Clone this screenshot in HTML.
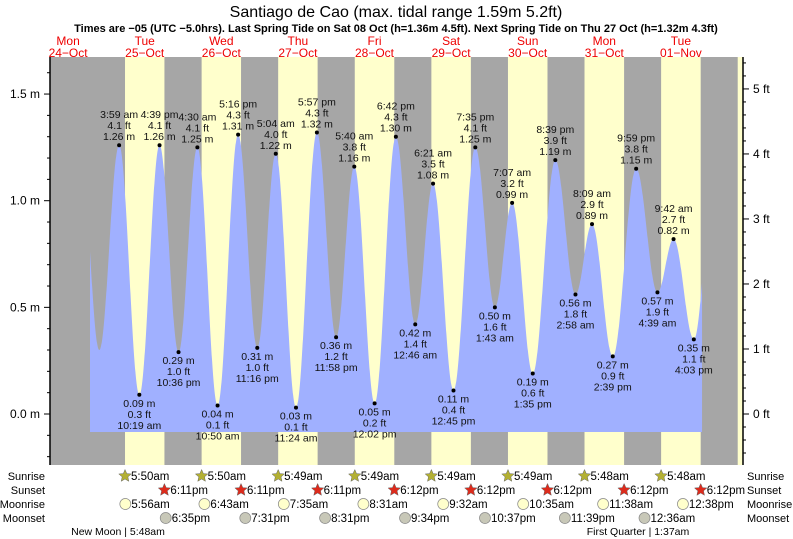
<!DOCTYPE html>
<html><head><meta charset="utf-8"><style>
body{margin:0;background:#fff;}
svg{display:block;font-family:"Liberation Sans",sans-serif;}
</style></head><body>
<svg id="c" width="793" height="539" viewBox="0 0 793 539" xmlns="http://www.w3.org/2000/svg">
<text x="396" y="17" text-anchor="middle" font-size="16">Santiago de Cao (max. tidal range 1.59m 5.2ft)</text>
<text x="396" y="32" text-anchor="middle" font-size="11" font-weight="bold">Times are −05 (UTC −5.0hrs). Last Spring Tide on Sat 08 Oct (h=1.36m 4.5ft). Next Spring Tide on Thu 27 Oct (h=1.32m 4.3ft)</text>
<g id="g"></g>
</svg>
<script>
const dayNames=["Mon","Tue","Wed","Thu","Fri","Sat","Sun","Mon","Tue"];
const dayDates=["24\u2212Oct","25\u2212Oct","26\u2212Oct","27\u2212Oct","28\u2212Oct","29\u2212Oct","30\u2212Oct","31\u2212Oct","01\u2212Nov"];
const tideDays=[0,0,1,1,1,1,2,2,2,2,3,3,3,3,4,4,4,5,5,5,5,6,6,6,6,7,7,7,7,8,8,8];
const tideTimes=["3:40 pm","9:46 pm","3:59 am","10:19 am","4:39 pm","10:36 pm","4:30 am","10:50 am","5:16 pm","11:16 pm","5:04 am","11:24 am","5:57 pm","11:58 pm","5:40 am","12:02 pm","6:42 pm","12:46 am","6:21 am","12:45 pm","7:35 pm","1:43 am","7:07 am","1:35 pm","8:39 pm","2:58 am","8:09 am","2:39 pm","9:59 pm","4:39 am","9:42 am","4:03 pm"];
const tideM=[1.30,0.30,1.26,0.09,1.26,0.29,1.25,0.04,1.31,0.31,1.22,0.03,1.32,0.36,1.16,0.05,1.30,0.42,1.08,0.11,1.25,0.50,0.99,0.19,1.19,0.56,0.89,0.27,1.15,0.57,0.82,0.35];
const tideFt=["","","4.1","0.3","4.1","1.0","4.1","0.1","4.3","1.0","4.0","0.1","4.3","1.2","3.8","0.2","4.3","1.4","3.5","0.4","4.1","1.6","3.2","0.6","3.9","1.8","2.9","0.9","3.8","1.9","2.7","1.1"];
const tideLabelled=[0,0,1,1,1,1,1,1,1,1,1,1,1,1,1,1,1,1,1,1,1,1,1,1,1,1,1,1,1,1,1,1];
const endHigh={day:8,time:"10:30 pm",m:1.12};
const sunrise=["5:50am","5:50am","5:49am","5:49am","5:49am","5:49am","5:48am","5:48am"];
const sunriseDays=[1,2,3,4,5,6,7,8];
const sunset=["6:11pm","6:11pm","6:11pm","6:12pm","6:12pm","6:12pm","6:12pm","6:12pm"];
const sunDays=[1,2,3,4,5,6,7,8];
const nextSunrise="5:48am";
const moonrise=["5:56am","6:43am","7:35am","8:31am","9:32am","10:35am","11:38am","12:38pm"];
const moonriseDays=[1,2,3,4,5,6,7,8];
const moonset=["6:35pm","7:31pm","8:31pm","9:34pm","10:37pm","11:39pm","12:36am"];
const moonsetDays=[1,2,3,4,5,6,8];
const startT=0.786, endT=8.776;

const NS="http://www.w3.org/2000/svg";
const g=document.getElementById('g');
const X0=29.8, DW=76.6, PL=50, PR=743, PT=57, PB=465;
const xs=t=>X0+t*DW;
const ys=m=>414-m*213.3;
const yft=f=>ys(f*0.3048);
function parseT(s){const m=s.match(/(\d+):(\d+)\s*(am|pm)/);let h=+m[1]%12;if(m[3]=='pm')h+=12;return (h+ (+m[2])/60)/24;}
function el(tag,attrs,txt){const e=document.createElementNS(NS,tag);for(const k in attrs)e.setAttribute(k,attrs[k]);if(txt!==undefined)e.textContent=txt;g.appendChild(e);return e;}

let e;
e=el('rect',{x:PL,y:PT,width:PR-PL,height:PB-PT,fill:'#a6a6a6'});


for(let i=0;i<sunrise.length;i++){
  const a=xs(sunriseDays[i]+parseT(sunrise[i]));
  const b=xs(sunDays[i]+parseT(sunset[i]));
  e=el('rect',{x:a,y:PT,width:b-a,height:PB-PT,fill:'#ffffcc'});
  
  
}
{const a=xs(9+parseT(nextSunrise));
 e=el('rect',{x:a,y:PT,width:Math.max(0,PR-a),height:PB-PT,fill:'#ffffcc'});
 
 }
const ext=tideTimes.map((s,i)=>({t:tideDays[i]+parseT(s),m:tideM[i]}));
ext.push({t:endHigh.day+parseT(endHigh.time),m:endHigh.m});
function h(t){for(let i=0;i<ext.length-1;i++){const a=ext[i],b=ext[i+1];if(t>=a.t&&t<=b.t){const f=(t-a.t)/(b.t-a.t);return a.m+(b.m-a.m)*(1-Math.cos(Math.PI*f))/2;}}return ext[ext.length-1].m;}
let d='M'+xs(startT)+','+432;
for(let t=startT;t<=endT+1e-9;t+=0.004)d+=' L'+xs(t).toFixed(1)+','+ys(h(t)).toFixed(1);
d+=' L'+xs(endT)+','+ys(h(endT)).toFixed(1)+' L'+xs(endT)+',432 Z';
e=el('path',{d:d,fill:'#a0b0ff'});


for(let i=0;i<tideTimes.length;i++){
  if(!tideLabelled[i])continue;
  const x=xs(ext[i].t),y=ys(ext[i].m);
  const high=i%2==0;
  e=el('circle',{cx:x,cy:y,r:2,fill:'#000'});
  
  
  const lines=high?[tideTimes[i],tideFt[i]+' ft',tideM[i].toFixed(2)+' m']:[tideM[i].toFixed(2)+' m',tideFt[i]+' ft',tideTimes[i]];
  const y0=high?y-27:y+12;
  lines.forEach((s,j)=>{
    e=el('text',{x:x,y:y0+j*11,'text-anchor':'middle','font-size':'10.5',fill:'#111'},s);
    
    
  });
}
for(let i=0;i<dayNames.length;i++){
  const x=xs(i+0.5);
  e=el('text',{x:x,y:45,'text-anchor':'middle','font-size':'12',fill:'#ee0000'},dayNames[i]);
  
  
  e=el('text',{x:x,y:57,'text-anchor':'middle','font-size':'12',fill:'#ee0000'},dayDates[i]);
  
  
}
e=el('line',{x1:PL,y1:PT,x2:PL,y2:PB,stroke:'#000','stroke-width':1.5});


e=el('line',{x1:PR,y1:PT,x2:PR,y2:PB,stroke:'#000','stroke-width':1.5});


for(let k=-2;k<=16;k++){
  const y=ys(k/10);const maj=k%5==0;
  el('line',{x1:maj?PL-6:PL-3,y1:y,x2:PL,y2:y,stroke:'#000'});
  if(maj){e=el('text',{x:PL-10,y:y+4,'text-anchor':'end','font-size':'12'},(k/10).toFixed(1)+' m');
  
  }
}
for(let k=-3;k<=27;k++){
  const y=yft(k/5);if(y<PT)continue;const maj=k%5==0;
  el('line',{x1:PR,y1:y,x2:maj?PR+6:PR+3,y2:y,stroke:'#000'});
  if(maj){e=el('text',{x:PR+10,y:y+4,'font-size':'12'},(k/5)+' ft');
  
  }
}
const rows=[["Sunrise",480],["Sunset",494],["Moonrise",508],["Moonset",522]];
rows.forEach(r=>{
  e=el('text',{x:45,y:r[1],'text-anchor':'end','font-size':'11'},r[0]);
  
  
  e=el('text',{x:747,y:r[1],'font-size':'11'},r[0]);
  
  
});
function star(cx,cy,fill,name){let p='';for(let k=0;k<10;k++){const a=-Math.PI/2+k*Math.PI/5,r=k%2?3:6.5;p+=(k?'L':'M')+(cx+r*Math.cos(a)).toFixed(1)+','+(cy+r*Math.sin(a)).toFixed(1);}
  const s=el('path',{d:p+'Z',fill:fill,stroke:'#666','stroke-width':0.5});
  
  }
function evRow(times,days,yc,kind){times.forEach((s,i)=>{const x=xs(days[i]+parseT(s));
  if(kind=='sunrise')star(x,yc,'#b3b033','sunrise-icon');
  else if(kind=='sunset')star(x,yc,'#dd2b1c','sunset-icon');
  else{const c=el('circle',{cx:x,cy:yc,r:5.5,fill:kind=='moonrise'?'#ffffcc':'#c8c8b8',stroke:'#888','stroke-width':0.7});
    
    }
  const t=el('text',{x:x+6,y:yc+4,'font-size':'11.5'},s);
  
  });}
evRow(sunrise,sunriseDays,476,'sunrise');
evRow(sunset,sunDays,490,'sunset');
evRow(moonrise,moonriseDays,504,'moonrise');
evRow(moonset,moonsetDays,518,'moonset');
e=el('text',{x:118,y:535,'text-anchor':'middle','font-size':'10.5'},'New Moon | 5:48am');


e=el('text',{x:638,y:535,'text-anchor':'middle','font-size':'10.5'},'First Quarter | 1:37am');


</script>
</body></html>
